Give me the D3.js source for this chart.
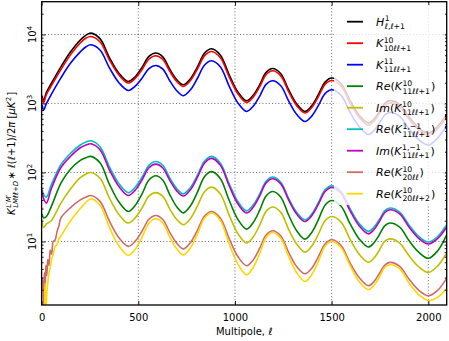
<!DOCTYPE html>
<html>
<head>
<meta charset="utf-8">
<script src="https://cdn.jsdelivr.net/npm/d3@7"></script>
<style>
  body { margin: 0; background: #fff; }
  svg { display: block; font-family: "DejaVu Sans", sans-serif; }
</style>
</head>
<body>
<div id="chart"></div>
<script>
var svgWidth = 449;
var svgHeight = 341;

// plot frame in pixels
var frame = { left: 41.6, right: 446.7, top: 1.7, bottom: 305 };

// Multipole sample points (peaks, troughs and points on the slopes)
var ell = [2, 10, 25, 50, 100, 150, 200, 230, 255, 303, 350, 400, 448, 484, 520, 555, 591, 627, 662, 698,
  733, 770, 806, 843, 879, 924, 970, 1015, 1060, 1094, 1128, 1161, 1195, 1237, 1278, 1320, 1362,
  1397, 1431, 1466, 1500, 1548, 1595, 1643, 1690, 1718, 1746, 1774, 1802, 1852, 1900, 1950, 2000, 2048, 2095];

var hTT = [1300, 1100, 1450, 1950, 3400, 5600, 8300, 9800, 10470, 8630, 4670, 2740, 2084, 2440, 3350, 4800,
  5375, 4730, 3170, 2230, 1866, 2290, 3400, 5370, 6209, 5040, 2610, 1470, 1094, 1315, 1875, 2820, 3216,
  2700, 1570, 977, 766, 925, 1337, 2040, 2334, 1950, 1100, 670, 520, 591, 756, 1005, 1100, 964, 638,
  445, 370, 465, 700];
var k10 = [1200, 1020, 1350, 1800, 3100, 5100, 7550, 8900, 9350, 7760, 4300, 2580, 1976, 2310, 3115, 4400,
  4914, 4340, 2940, 2100, 1763, 2150, 3160, 4930, 5670, 4620, 2420, 1380, 1034, 1236, 1754, 2620, 2978,
  2510, 1470, 923, 726, 873, 1250, 1890, 2155, 1800, 1022, 625, 485, 551, 704, 933, 1020, 896, 594,
  415, 345, 430, 645];
var k11 = [950, 800, 1000, 1350, 2350, 3850, 5600, 6650, 7090, 5900, 3310, 2000, 1543, 1778, 2340, 3210,
  3555, 3150, 2150, 1540, 1294, 1580, 2320, 3610, 4157, 3400, 1785, 1020, 766, 912, 1280, 1890, 2133,
  1810, 1080, 690, 548, 656, 931, 1390, 1580, 1320, 750, 458, 355, 402, 513, 678, 740, 649, 430,
  300, 250, 315, 480];
var reK11 = [25, 22, 23, 32, 70, 112, 150, 164, 171, 137, 68.2, 37.2, 27.2, 33.3, 49.4, 77.6,
  89.6, 77.3, 48.3, 32.1, 26, 32.9, 51.9, 87.5, 103, 82, 39.5, 20.9, 15.1, 18.7, 28.4, 45.7, 53,
  43.9, 24, 14.2, 10.8, 13.5, 20.6, 33.6, 39.3, 32.6, 18.1, 10.8, 8.3, 9.5, 12.4, 16.8, 18.5, 16.1, 10.3,
  7.0, 5.7, 7.3, 12.5];
var imK11 = [20, 16, 18, 20, 36, 58, 84, 95, 100, 81.7, 43, 24.6, 18.5, 22, 30.8, 45.4,
  51, 45.1, 29.9, 21, 17.5, 21.6, 32.7, 52.7, 61.4, 49.1, 24.1, 13, 9.5, 11.6, 17.3, 27.3, 31.6,
  26.4, 14.9, 9.1, 7, 8.6, 12.7, 20, 23, 19.2, 10.8, 6.5, 5, 5.7, 7.4, 10, 10.9, 9.5, 6.2,
  4.3, 3.56, 4.4, 6.8];
var reK11m = [58, 48, 44, 66, 130, 190, 250, 276, 288, 234, 122, 68.9, 51, 61.2, 86, 127,
  144, 127, 84, 59, 49, 60.7, 91.5, 147, 171, 137, 69, 37.9, 27.8, 33.7, 48.9, 74.8, 85.8,
  72.2, 42, 26.2, 20.6, 24.9, 36.4, 56, 64, 53.4, 29.9, 18.1, 14, 16, 20.6, 27.7, 30.5, 26.6, 17.3,
  11.9, 9.8, 11.8, 17.5];
var imK11m = [55, 42, 36, 58, 118, 172, 228, 250, 261, 212, 110, 62.4, 46.4, 55.5, 78.5, 117,
  132, 116, 77.6, 54.6, 45.5, 56.4, 85.3, 137, 160, 128, 64.2, 35.2, 25.8, 31.3, 45.8, 70.6, 81,
  68.4, 39.8, 24.8, 19.5, 23.6, 34.4, 53, 60.7, 50.4, 28, 16.8, 12.9, 14.8, 19.3, 26.1, 28.8, 25.1, 16.2,
  11.1, 9.2, 11, 16.2];

// the K20 curves are noisy at low multipoles, so they get a finer start
var ellK20 = [2, 6, 10, 14, 18, 22, 27, 32, 38, 45, 52, 60, 70, 80, 90,
  100, 150, 200, 230, 255, 303, 350, 400, 448, 484, 520, 555, 591, 627, 662, 698,
  733, 770, 806, 843, 879, 924, 970, 1015, 1060, 1094, 1128, 1161, 1195, 1237, 1278, 1320, 1362,
  1397, 1431, 1466, 1500, 1548, 1595, 1643, 1690, 1718, 1746, 1774, 1802, 1852, 1900, 1950, 2000, 2048, 2095];
var reK20 = [3, 2.5, 1.2, 3.5, 2.0, 4.5, 3.2, 5.5, 4.5, 7.5, 6.5, 10, 10.5, 14, 17,
  22, 31, 40, 44, 46.4, 37.8, 19.9, 11.3, 8.5, 10.1, 14.2, 21, 23.8, 20.8, 13.7, 9.5,
  7.8, 9.7, 14.6, 23.4, 27.2, 21.9, 11, 6.05, 4.45, 5.4, 8, 12.4, 14.3, 12, 6.9, 4.3, 3.4,
  4.1, 6, 9.2, 10.6, 8.8, 4.9, 2.97, 2.28, 2.6, 3.4, 4.5, 4.97, 4.35, 2.85, 1.97, 1.63, 1.95, 2.95];
var reK22 = [1.0, 1.0, 1.0, 1.1, 2.5, 1.0, 1.8, 2.5, 3.5, 4.2, 5.5, 6.5, 8.5, 9, 11,
  12, 20, 30, 37, 41.6, 33.1, 16.1, 8.65, 6.3, 7.7, 11.6, 18.4, 21.3, 18.5, 11.7, 7.9,
  6.4, 8.1, 12.9, 21.8, 25.8, 20.2, 9.2, 4.7, 3.3, 4.2, 6.7, 11.4, 13.5, 11.1, 6.0, 3.5, 2.63,
  3.3, 5.1, 8.5, 10, 8.2, 4.5, 2.6, 2.0, 2.3, 3.0, 4.2, 4.6, 4.0, 2.5, 1.7, 1.4, 1.55, 2.1];

var xTicks = [0, 500, 1000, 1500, 2000];
var yTicks = [10, 100, 1000, 10000];

var series = [
  { ell: ell, vals: hTT, color: "#000000", label: ["H", { sup: "1", sub: "ℓ,ℓ+1" }] },
  { ell: ell, vals: k10, color: "#ff0000", label: ["K", { sup: "10", sub: "10ℓℓ+1" }] },
  { ell: ell, vals: k11, color: "#0000ff", label: ["K", { sup: "11", sub: "11ℓℓ+1" }] },
  { ell: ell, vals: reK11, color: "#008000", label: ["Re(K", { sup: "10", sub: "11ℓℓ+1" }, ")"] },
  { ell: ell, vals: imK11, color: "#bfbf00", label: ["Im(K", { sup: "10", sub: "11ℓℓ+1" }, ")"] },
  { ell: ell, vals: reK11m, color: "#00bfbf", label: ["Re(K", { sup: "1,−1", sub: "11ℓℓ+1" }, ")"] },
  { ell: ell, vals: imK11m, color: "#bf00bf", label: ["Im(K", { sup: "1,−1", sub: "11ℓℓ+1" }, ")"] },
  { ell: ellK20, vals: reK20, color: "#cd6b6b", label: ["Re(K", { sup: "10", sub: "20ℓℓ" }, ")"] },
  { ell: ellK20, vals: reK22, color: "#ffd700", label: ["Re(K", { sup: "10", sub: "20ℓℓ+2" }, ")"] }
];

var svg = d3.select("#chart")
  .append("svg")
  .attr("width", svgWidth)
  .attr("height", svgHeight);

var x = d3.scaleLinear().domain([0, 2095]).range([frame.left, frame.right]);
var y = d3.scaleLog().domain([1.2, 29850]).range([frame.bottom, frame.top]);

// split a string into italic letter runs and upright others (mathtext look)
function addRuns(textSel, str) {
  str.split(/([A-Za-zℓμπ]+)/).forEach(function(part) {
    if (!part) return;
    textSel.append("tspan")
      .style("font-style", /[A-Za-zℓμπ]/.test(part) ? "italic" : "normal")
      .text(part);
  });
}

function drawMath(parent, x0, y0, tokens, size) {
  var cx = x0;
  tokens.forEach(function(tok) {
    if (typeof tok === "string") {
      var t = parent.append("text").attr("x", cx).attr("y", y0).style("font-size", size + "px");
      addRuns(t, tok);
      cx += t.node().getComputedTextLength();
    } else {
      var s = size * 0.7, w = 0;
      if (tok.sup) {
        var ts = parent.append("text").attr("x", cx + 0.5).attr("y", y0 - size * 0.42).style("font-size", s + "px");
        addRuns(ts, tok.sup);
        w = Math.max(w, ts.node().getComputedTextLength());
      }
      if (tok.sub) {
        var tb = parent.append("text").attr("x", cx + 0.5).attr("y", y0 + size * 0.32).style("font-size", s + "px");
        addRuns(tb, tok.sub);
        w = Math.max(w, tb.node().getComputedTextLength());
      }
      cx += w + 1.5;
    }
  });
  return cx - x0;
}

// grid
var grid = svg.append("g").attr("stroke", "#000").attr("stroke-width", 0.6).attr("stroke-dasharray", "1,2.2");
grid.selectAll(".gx").data(xTicks.slice(1)).enter().append("line")
  .attr("x1", d => x(d)).attr("x2", d => x(d))
  .attr("y1", frame.top).attr("y2", frame.bottom);
grid.selectAll(".gy").data(yTicks).enter().append("line")
  .attr("x1", frame.left).attr("x2", frame.right)
  .attr("y1", d => y(d)).attr("y2", d => y(d));

// curves
svg.append("clipPath").attr("id", "clip")
  .append("rect")
  .attr("x", frame.left).attr("y", frame.top)
  .attr("width", frame.right - frame.left).attr("height", frame.bottom - frame.top);

var line = d3.line()
  .x(d => x(d[0]))
  .y(d => y(d[1]))
  .curve(d3.curveCatmullRom.alpha(0.5));

var curves = svg.append("g").attr("clip-path", "url(#clip)");
series.forEach(function(s) {
  curves.append("path")
    .datum(s.ell.map((l, i) => [l, s.vals[i]]))
    .attr("fill", "none")
    .attr("stroke", s.color)
    .attr("stroke-width", 1.6)
    .attr("d", line);
});

// axes with inward ticks
var minors = [];
[1, 10, 100, 1000, 10000].forEach(function(dec) {
  for (var k = 2; k <= 9; k++) {
    var v = dec * k;
    if (v > 1.2 && v < 29850) minors.push(v);
  }
});

var xAxis = svg.append("g")
  .attr("transform", `translate(0, ${frame.bottom})`)
  .call(d3.axisBottom(x).tickValues(xTicks).tickSize(-4).tickPadding(8.4).tickFormat(d3.format("d")));
svg.append("g")
  .attr("transform", `translate(0, ${frame.top})`)
  .call(d3.axisTop(x).tickValues(xTicks).tickSize(-4).tickFormat(""));

[[d3.axisLeft, frame.left], [d3.axisRight, frame.right]].forEach(function(a) {
  svg.append("g")
    .attr("transform", `translate(${a[1]}, 0)`)
    .call(a[0](y).tickValues(yTicks).tickSize(-4).tickFormat(""));
  svg.append("g")
    .attr("transform", `translate(${a[1]}, 0)`)
    .call(a[0](y).tickValues(minors).tickSize(-2).tickFormat(""));
});

svg.selectAll(".domain").remove();
svg.selectAll(".tick line").attr("stroke", "#000").attr("stroke-width", 0.9);
xAxis.selectAll("text")
  .style("font-size", "10px")
  .style("font-family", "DejaVu Sans")
  .attr("fill", "#000");

// rotated y tick labels: 10^n
yTicks.forEach(function(v) {
  var t = svg.append("text")
    .attr("transform", `translate(36, ${y(v)}) rotate(-90)`)
    .attr("text-anchor", "middle")
    .style("font-size", "10px");
  t.append("tspan").text("10");
  t.append("tspan").attr("dy", -4.5).style("font-size", "7px").text(Math.round(Math.log10(v)));
});

// frame
svg.append("rect")
  .attr("x", frame.left).attr("y", frame.top)
  .attr("width", frame.right - frame.left).attr("height", frame.bottom - frame.top)
  .attr("fill", "none").attr("stroke", "#000").attr("stroke-width", 1.3);

// axis labels
svg.append("text")
  .attr("x", (frame.left + frame.right) / 2)
  .attr("y", 335)
  .attr("text-anchor", "middle")
  .style("font-size", "10px")
  .text("Multipole, ")
  .append("tspan").style("font-style", "italic").text("ℓ");

var yLab = svg.append("g");
var yLabW = drawMath(yLab, 0, 0,
  ["K", { sup: "L′M′", sub: "LMℓℓ+D" }, " ∗ ℓ(ℓ+1)/2π  [μK", { sup: "2" }, "]"], 10);
yLab.attr("transform", `translate(15, ${(frame.top + frame.bottom) / 2 + yLabW / 2}) rotate(-90)`);

// legend
var legend = svg.append("g");
legend.append("rect")
  .attr("x", 334).attr("y", 5)
  .attr("width", 111).attr("height", 200)
  .attr("fill", "#fff").attr("fill-opacity", 0.8);

series.forEach(function(s, i) {
  var ry = 21.7 + i * 21.5;
  legend.append("line")
    .attr("x1", 347).attr("x2", 363)
    .attr("y1", ry).attr("y2", ry)
    .attr("stroke", s.color).attr("stroke-width", 1.8);
  drawMath(legend, 376, ry + 4, s.label, 11);
});
</script>
</body>
</html>
